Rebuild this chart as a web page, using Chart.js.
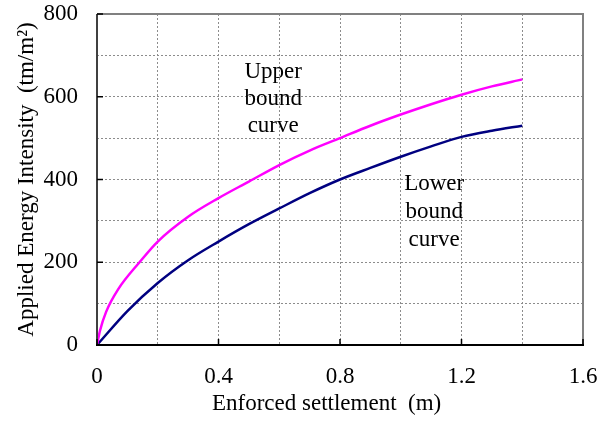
<!DOCTYPE html>
<html>
<head>
<meta charset="utf-8">
<script src="https://cdn.jsdelivr.net/npm/chart.js@4"></script>
<style>
  html, body { margin: 0; padding: 0; background: #fff; }
  #wrap { width: 608px; height: 423px; }
</style>
</head>
<body>
<div id="wrap"><canvas id="chart" width="608" height="423"></canvas></div>
<script>
// data
const upperX = [0, 0.01, 0.03, 0.07, 0.14, 0.2, 0.3, 0.4, 0.5, 0.6, 0.7, 0.8, 0.9, 1.0, 1.1, 1.2, 1.3, 1.4];
const upperY = [0, 35, 80, 135, 200, 250, 310, 355, 395, 435, 470, 500, 530, 557, 582, 605, 625, 642];
const lowerX = [0, 0.1, 0.2, 0.3, 0.4, 0.5, 0.6, 0.7, 0.8, 0.9, 1.0, 1.1, 1.2, 1.3, 1.4];
const lowerY = [0, 82, 150, 205, 250, 292, 330, 367, 400, 428, 455, 480, 503, 518, 530];
const xTicks = [0, 0.4, 0.8, 1.2, 1.6];
const yTicks = [0, 200, 400, 600, 800];

const serif = '"Liberation Serif", "Times New Roman", serif';

function pts(xs, ys) {
  return xs.map((x, i) => ({ x: x, y: ys[i] }));
}

// frame, inward tick marks, curve labels and x title
const decor = {
  id: 'decor',
  afterDraw(chart) {
    const ctx = chart.ctx;
    const a = chart.chartArea;
    const xs = chart.scales.x, ys = chart.scales.y;
    ctx.save();
    // top / right frame
    ctx.strokeStyle = '#808080';
    ctx.lineWidth = 2;
    ctx.beginPath();
    ctx.moveTo(a.left, a.top);
    ctx.lineTo(a.right, a.top);
    ctx.lineTo(a.right, a.bottom);
    ctx.stroke();
    // left axis
    ctx.strokeStyle = '#404040';
    ctx.beginPath();
    ctx.moveTo(a.left, a.top);
    ctx.lineTo(a.left, a.bottom);
    ctx.stroke();
    // bottom axis
    ctx.strokeStyle = '#000';
    ctx.beginPath();
    ctx.moveTo(a.left - 1, a.bottom);
    ctx.lineTo(a.right + 1, a.bottom);
    ctx.stroke();
    // inward ticks
    ctx.lineWidth = 1.5;
    xTicks.forEach(v => {
      const px = xs.getPixelForValue(v);
      ctx.beginPath();
      ctx.moveTo(px, a.bottom);
      ctx.lineTo(px, a.bottom - 6);
      ctx.stroke();
    });
    yTicks.forEach(v => {
      const py = ys.getPixelForValue(v);
      ctx.beginPath();
      ctx.moveTo(a.left, py);
      ctx.lineTo(a.left + 6, py);
      ctx.stroke();
    });
    // curve labels
    ctx.fillStyle = '#000';
    ctx.font = '23px ' + serif;
    ctx.textAlign = 'center';
    ctx.textBaseline = 'middle';
    const ux = xs.getPixelForValue(0.58);
    ['Upper', 'bound', 'curve'].forEach((t, i) => {
      ctx.fillText(t, ux, ys.getPixelForValue(660) + i * 27);
    });
    const lx = xs.getPixelForValue(1.11);
    ['Lower', 'bound', 'curve'].forEach((t, i) => {
      ctx.fillText(t, lx, ys.getPixelForValue(389) + i * 28);
    });
    // x axis title
    ctx.font = '23px ' + serif;
    ctx.textAlign = 'left';
    ctx.textBaseline = 'alphabetic';
    ctx.fillText('Enforced settlement  (m)', 212, 410);
    ctx.restore();
  }
};

new Chart(document.getElementById('chart'), {
  type: 'scatter',
  data: {
    datasets: [
      {
        label: 'Upper bound curve',
        data: pts(upperX, upperY),
        showLine: true,
        borderColor: '#ff00ff',
        borderWidth: 2.5,
        pointRadius: 0,
        cubicInterpolationMode: 'monotone'
      },
      {
        label: 'Lower bound curve',
        data: pts(lowerX, lowerY),
        showLine: true,
        borderColor: '#000080',
        borderWidth: 2.5,
        pointRadius: 0,
        cubicInterpolationMode: 'monotone'
      }
    ]
  },
  options: {
    responsive: false,
    animation: false,
    layout: { padding: { top: 14, right: 25, left: 0, bottom: 0 } },
    plugins: {
      legend: { display: false },
      tooltip: { enabled: false }
    },
    scales: {
      x: {
        type: 'linear',
        min: 0,
        max: 1.6,
        border: { display: false, dash: [2, 2] },
        grid: {
          color: '#8c8c8c',
          lineWidth: 1,
          drawTicks: false
        },
        ticks: {
          stepSize: 0.2,
          padding: 18,
          color: '#000',
          font: { family: serif, size: 23 },
          maxRotation: 0,
          autoSkip: false,
          callback: v => {
            const r = Math.round(v * 10) / 10;
            return xTicks.some(t => Math.abs(t - r) < 1e-6) ? (r === 0 ? '0' : r.toFixed(1)) : '';
          }
        },
        afterFit: s => {
          s.height = 423 - 345;
          s.paddingLeft = 0;
          s.paddingRight = 0;
        }
      },
      y: {
        min: 0,
        max: 800,
        border: { display: false, dash: [2, 2] },
        grid: {
          color: '#8c8c8c',
          lineWidth: 1,
          drawTicks: false
        },
        ticks: {
          stepSize: 100,
          padding: 19,
          color: '#000',
          font: { family: serif, size: 23 },
          autoSkip: false,
          callback: v => (v % 200 === 0 ? String(v) : '')
        },
        title: {
          display: true,
          text: 'Applied Energy Intensity  (tm/m²)',
          color: '#000',
          font: { family: serif, size: 23 },
          padding: { top: 13, bottom: 0 }
        },
        afterFit: s => {
          s.width = 97;
          s.paddingTop = 0;
          s.paddingBottom = 0;
        }
      }
    }
  },
  plugins: [decor]
});
</script>
</body>
</html>
